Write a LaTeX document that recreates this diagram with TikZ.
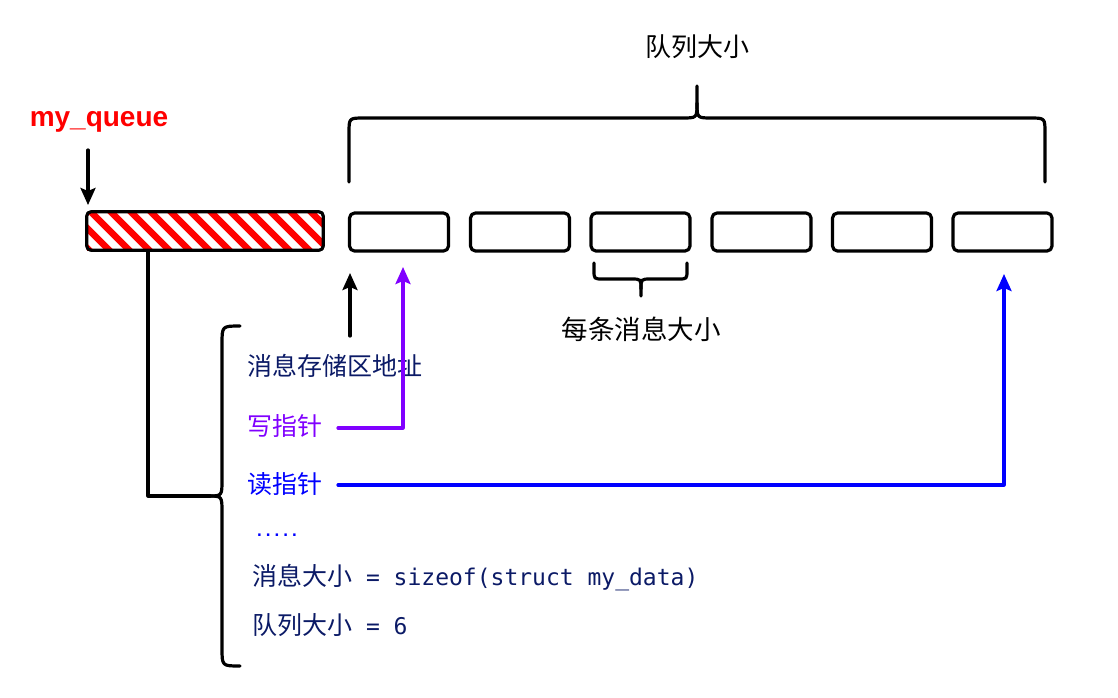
\documentclass[tikz,border=0pt]{standalone}
\usepackage{fontspec}
\setmainfont{Liberation Sans}
\newfontfamily\cjk{Noto Sans CJK SC}
\newfontfamily\monof{DejaVu Sans Mono}
\usetikzlibrary{arrows.meta}
\definecolor{navy}{HTML}{0B1A66}
\definecolor{wpurple}{HTML}{8000FF}
\definecolor{rblue}{HTML}{0000FF}
\tikzset{
  thick line/.style={line width=3.2pt, line cap=round, line join=round},
  cell/.style={draw, thick line, rounded corners=5pt, minimum width=99pt, minimum height=38pt, inner sep=0pt},
  arr/.style={thick line, -{Stealth[length=17pt,width=15pt,inset=3pt]}},
  big cjk/.style={font=\cjk\fontsize{26}{30}\selectfont},
  left txt/.style={anchor=west, inner sep=0pt, font=\cjk\fontsize{25}{28}\selectfont},
}
\begin{document}
\begin{tikzpicture}[x=1pt,y=-1pt]
\useasboundingbox (0,0) rectangle (1118,697);

% queue handle (hatched)
\node[minimum width=236pt, minimum height=38pt, inner sep=0pt,
  path picture={\foreach \k in {-60,-40,...,260}
     \draw[red, line width=6.5pt] ([xshift=\k pt, yshift=4pt]path picture bounding box.north west) -- ++(46pt,-46pt);}]
  (q) at (205,231) {};
\draw[thick line, rounded corners=4pt] (q.north west) rectangle (q.south east);

\node[text=red, font=\bfseries\fontsize{28}{30}\selectfont] (mq) at (99,122) {my\_queue};
\coordinate (mqa) at (88,150);
\draw[arr] (mqa) -- (88,205);

% cells
\foreach \i/\x in {1/399, 2/520, 3/640.5, 4/761.5, 5/882, 6/1002.5}
  \node[cell] (c\i) at (\x,232) {};

% top brace
\draw[thick line] (349,182) -- (349,133) .. controls (349,118) .. (364,118) -- (682,118) .. controls (697,118) .. (697,103) -- (697,86);
\draw[thick line] (1045,182) -- (1045,133) .. controls (1045,118) .. (1030,118) -- (712,118) .. controls (697,118) .. (697,103);
\node[big cjk] (qs) at (697,47) {队列大小};

% small brace
\draw[thick line] (594,263) -- (594,270) .. controls (594,279) .. (603,279) -- (631,279) .. controls (641,279) .. (641,289) -- (641,296);
\draw[thick line] (687,263) -- (687,270) .. controls (687,279) .. (678,279) -- (651,279) .. controls (641,279) .. (641,289);
\node[big cjk, font=\cjk\fontsize{26.5}{30}\selectfont] (ms) at (641,329) {每条消息大小};

% left brace and link
\draw[thick line] (148,251) |- (210,496);
\draw[thick line] (240,326) .. controls (222,326) .. (222,344) -- (222,480) .. controls (222,496) .. (208,496);
\draw[thick line] (240,666) .. controls (222,666) .. (222,648) -- (222,512) .. controls (222,496) .. (208,496);

% struct fields
\node[left txt, text=navy] (f1) at (247,366) {消息存储区地址};
\node[left txt, text=wpurple] (f2) at (247,426) {写指针};
\node[left txt, text=rblue] (f3) at (247,484) {读指针};
\node[anchor=base west, inner sep=0pt, text=rblue, font=\monof\bfseries\fontsize{14.5}{16}\selectfont] (f4) at (255,536) {.....};
\node[left txt, text=navy] (f5) at (252,578) {消息大小{\monof\fontsize{23}{26}\selectfont\ = sizeof(struct my\_data)}};
\node[left txt, text=navy] (f6) at (252,625) {队列大小{\monof\fontsize{23}{26}\selectfont\ = 6}};

% pointers
\coordinate (p0) at (350,336);
\draw[arr] (p0) -- (350,273);
\coordinate (p1) at (338,428);
\draw[arr, wpurple] (p1) -| (403,267);
\coordinate (p2) at (338,485);
\draw[arr, rblue] (p2) -| (1004,274);
\end{tikzpicture}
\end{document}
